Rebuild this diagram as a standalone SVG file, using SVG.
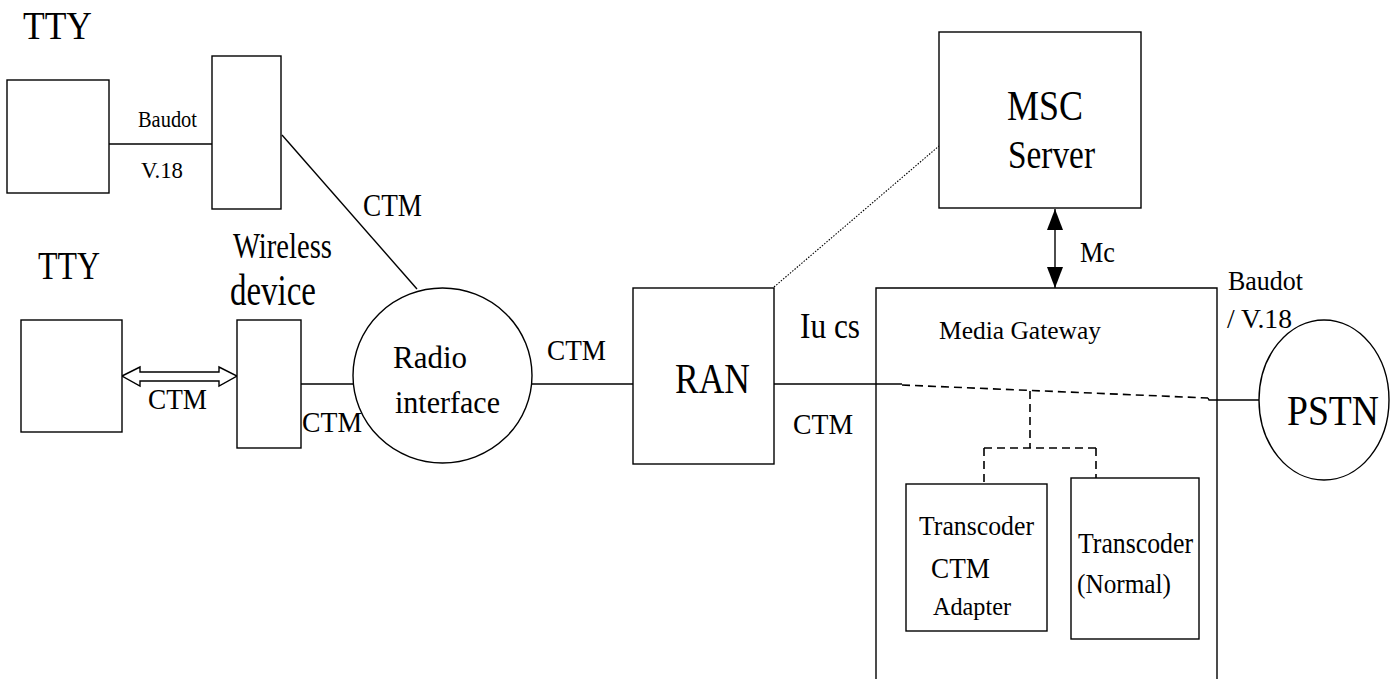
<svg xmlns="http://www.w3.org/2000/svg" width="1394" height="679" viewBox="0 0 1394 679">
<style>
  .box{fill:#fff;stroke:#000;stroke-width:1.4}
  .ln{fill:none;stroke:#000;stroke-width:1.4}
  .dash{fill:none;stroke:#000;stroke-width:1.6;stroke-dasharray:8 5}
  .dot{fill:none;stroke:#000;stroke-width:1.1;stroke-dasharray:1.5 1.5}
  text{font-family:"Liberation Serif","Times New Roman",serif;fill:#000}
</style>
<defs>
  <marker id="ah" viewBox="0 0 21 16" refX="21" refY="8" markerWidth="21" markerHeight="16" markerUnits="userSpaceOnUse" orient="auto-start-reverse">
    <path d="M0,0 L21,8 L0,16 Z" fill="#000"/>
  </marker>
</defs>
<rect width="1394" height="679" fill="#fff"/>

<g id="connectors">
  <line class="ln" x1="109" y1="144" x2="212" y2="144"/>
  <line class="ln" x1="282" y1="135" x2="417" y2="289"/>
  <polygon class="box" points="122,376 140,367 140,372 219,372 219,367 237,376 219,386 219,381 140,381 140,386"/>
  <line class="ln" x1="301" y1="384" x2="353" y2="384"/>
  <line class="ln" x1="532" y1="384" x2="633" y2="384"/>
  <line class="dot" x1="774" y1="287" x2="939" y2="146"/>
  <line class="ln" x1="1055" y1="209" x2="1055" y2="288" marker-start="url(#ah)" marker-end="url(#ah)"/>
  <line class="ln" x1="774" y1="384" x2="902" y2="384"/>
  <line class="dash" x1="902" y1="385" x2="1208" y2="398"/>
  <polyline class="ln" points="1208,398 1209,400 1259,400"/>
  <line class="dash" x1="1030" y1="391" x2="1030" y2="448"/>
  <line class="dash" x1="984" y1="448" x2="1096" y2="448"/>
  <line class="dash" x1="984" y1="448" x2="984" y2="484"/>
  <line class="dash" x1="1096" y1="448" x2="1096" y2="478"/>
</g>

<g id="labels">
  <text x="138" y="127" font-size="24" textLength="59" lengthAdjust="spacingAndGlyphs">Baudot</text>
  <text x="141" y="178" font-size="23" textLength="42" lengthAdjust="spacingAndGlyphs">V.18</text>
  <text x="363" y="216" font-size="31" textLength="59" lengthAdjust="spacingAndGlyphs">CTM</text>
  <text x="148" y="409" font-size="29" textLength="59" lengthAdjust="spacingAndGlyphs">CTM</text>
  <text x="302" y="432" font-size="30" textLength="60" lengthAdjust="spacingAndGlyphs">CTM</text>
  <text x="547" y="360" font-size="30" textLength="59" lengthAdjust="spacingAndGlyphs">CTM</text>
  <text x="1080" y="262" font-size="30" textLength="35" lengthAdjust="spacingAndGlyphs">Mc</text>
  <text x="800" y="338" font-size="36" textLength="60" lengthAdjust="spacingAndGlyphs">Iu cs</text>
  <text x="793" y="434" font-size="29" textLength="60" lengthAdjust="spacingAndGlyphs">CTM</text>
  <text x="1228" y="290" font-size="27" textLength="75" lengthAdjust="spacingAndGlyphs">Baudot</text>
  <text x="1227" y="328" font-size="27" textLength="65" lengthAdjust="spacingAndGlyphs">/ V.18</text>
</g>

<g id="tty1">
  <text x="23" y="39" font-size="41" textLength="69" lengthAdjust="spacingAndGlyphs">TTY</text>
  <rect class="box" x="7" y="80" width="102" height="113"/>
</g>
<g id="device1">
  <rect class="box" x="212" y="56" width="69" height="153"/>
</g>
<g id="tty2">
  <text x="38" y="279" font-size="40" textLength="62" lengthAdjust="spacingAndGlyphs">TTY</text>
  <rect class="box" x="21" y="320" width="101" height="112"/>
</g>
<g id="wireless-device">
  <text x="233" y="258" font-size="35" textLength="99" lengthAdjust="spacingAndGlyphs">Wireless</text>
  <text x="230" y="305" font-size="45" textLength="86" lengthAdjust="spacingAndGlyphs">device</text>
  <rect class="box" x="237" y="320" width="64" height="128"/>
</g>
<g id="radio-interface">
  <ellipse class="box" cx="442.5" cy="375.5" rx="89.5" ry="87.5"/>
  <text x="393" y="368" font-size="31" textLength="74" lengthAdjust="spacingAndGlyphs">Radio</text>
  <text x="395" y="413" font-size="31" textLength="105" lengthAdjust="spacingAndGlyphs">interface</text>
</g>
<g id="ran">
  <rect class="box" x="633" y="288" width="141" height="176"/>
  <text x="675" y="393" font-size="42" textLength="75" lengthAdjust="spacingAndGlyphs">RAN</text>
</g>
<g id="msc-server">
  <rect class="box" x="939" y="32" width="202" height="176"/>
  <text x="1007" y="120" font-size="42" textLength="76" lengthAdjust="spacingAndGlyphs">MSC</text>
  <text x="1008" y="168" font-size="40" textLength="87" lengthAdjust="spacingAndGlyphs">Server</text>
</g>
<g id="media-gateway">
  <path class="ln" d="M876,690 V288 H1217 V690"/>
  <text x="939" y="339" font-size="25" textLength="162" lengthAdjust="spacingAndGlyphs">Media Gateway</text>
</g>
<g id="transcoder-ctm">
  <rect class="box" x="906" y="484" width="141" height="147"/>
  <text x="919" y="535" font-size="27" textLength="115" lengthAdjust="spacingAndGlyphs">Transcoder</text>
  <text x="931" y="578" font-size="30" textLength="59" lengthAdjust="spacingAndGlyphs">CTM</text>
  <text x="933" y="615" font-size="26" textLength="78" lengthAdjust="spacingAndGlyphs">Adapter</text>
</g>
<g id="transcoder-normal">
  <rect class="box" x="1071" y="478" width="128" height="161"/>
  <text x="1078" y="553" font-size="30" textLength="115" lengthAdjust="spacingAndGlyphs">Transcoder</text>
  <text x="1077" y="593" font-size="28" textLength="94" lengthAdjust="spacingAndGlyphs">(Normal)</text>
</g>
<g id="pstn">
  <ellipse class="box" cx="1324" cy="400" rx="65" ry="80"/>
  <text x="1287" y="425" font-size="42" textLength="92" lengthAdjust="spacingAndGlyphs">PSTN</text>
</g>
</svg>
